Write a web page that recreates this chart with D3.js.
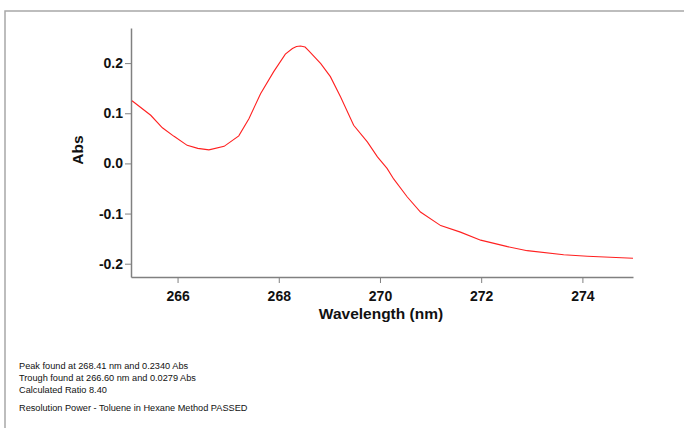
<!DOCTYPE html>
<html><head><meta charset="utf-8">
<script src="https://cdn.jsdelivr.net/npm/d3@7"></script>
<style>body{margin:0;background:#fff}svg{display:block}text{font-family:"Liberation Sans",Arial,sans-serif}</style>
</head><body>
<svg id="c" width="684" height="428"></svg>
<script>
const wavelength = [265.10,265.47,265.70,265.93,266.19,266.40,266.62,266.92,267.21,267.41,267.64,267.90,268.13,268.27,268.35,268.43,268.52,268.59,268.83,269.02,269.22,269.48,269.75,269.95,270.14,270.27,270.54,270.80,271.20,271.59,271.99,272.52,272.91,273.63,274.10,275.00];
const absorbance = [0.125,0.096,0.071,0.054,0.036,0.030,0.027,0.034,0.055,0.089,0.139,0.183,0.218,0.229,0.233,0.234,0.232,0.225,0.199,0.173,0.133,0.076,0.043,0.013,-0.010,-0.031,-0.067,-0.097,-0.124,-0.137,-0.153,-0.166,-0.174,-0.182,-0.185,-0.189];
const xTicks = [266,268,270,272,274];
const yTicks = [-0.2,-0.1,0.0,0.1,0.2];
const notes = ["Peak found at 268.41 nm and 0.2340 Abs","Trough found at 266.60 nm and 0.0279 Abs","Calculated Ratio 8.40","","Resolution Power - Toluene in Hexane Method PASSED"];

const svg = d3.select("#c");
svg.append("path").attr("d","M5,428V11H684").attr("fill","none").attr("stroke","#a8a8a8").attr("stroke-width",1.5);

const x = d3.scaleLinear().domain([265.08,275]).range([131,633]);
const y = d3.scaleLinear().domain([-0.2265,0.27]).range([277,28]);

const gx = svg.append("g").attr("transform","translate(0,277)")
  .call(d3.axisBottom(x).tickValues(xTicks).tickFormat(d3.format("d")).tickSize(6).tickSizeOuter(0));
const gy = svg.append("g").attr("transform","translate(131,0)")
  .call(d3.axisLeft(y).tickValues(yTicks).tickFormat(d=>d.toFixed(1)).tickSize(6).tickSizeOuter(0));
[gx,gy].forEach(g=>{
  g.attr("font-family","'Liberation Sans',Arial,sans-serif");
  g.selectAll("path.domain").attr("stroke","#808080").attr("stroke-width",1.5);
  g.selectAll(".tick line").attr("stroke","#808080").attr("stroke-width",1);
  g.selectAll(".tick text").attr("font-size",14).attr("font-weight","bold").attr("fill","#111");
});
gx.selectAll(".tick text").attr("dy","1.05em");
gy.selectAll(".tick text").attr("x",-8);

svg.append("text").attr("x",381).attr("y",319).attr("text-anchor","middle")
  .attr("font-size",15.5).attr("font-weight","bold").attr("fill","#111").text("Wavelength (nm)");
svg.append("text").attr("transform","translate(83,150) rotate(-90)").attr("text-anchor","middle")
  .attr("font-size",15.5).attr("font-weight","bold").attr("fill","#111").text("Abs");

const data = wavelength.map((w,i)=>[w,absorbance[i]]);
svg.append("path").datum(data).attr("fill","none").attr("stroke","#ff2020").attr("stroke-width",1.1)
  .attr("d",d3.line().x(d=>x(d[0])).y(d=>y(d[1])));

const yPos=[369,381,393,405,411];
notes.forEach((t,i)=>{ if(!t) return;
  svg.append("text").attr("x",19).attr("y",yPos[i]).attr("font-size",9.2).attr("fill","#111").text(t);
});
</script>
</body></html>
